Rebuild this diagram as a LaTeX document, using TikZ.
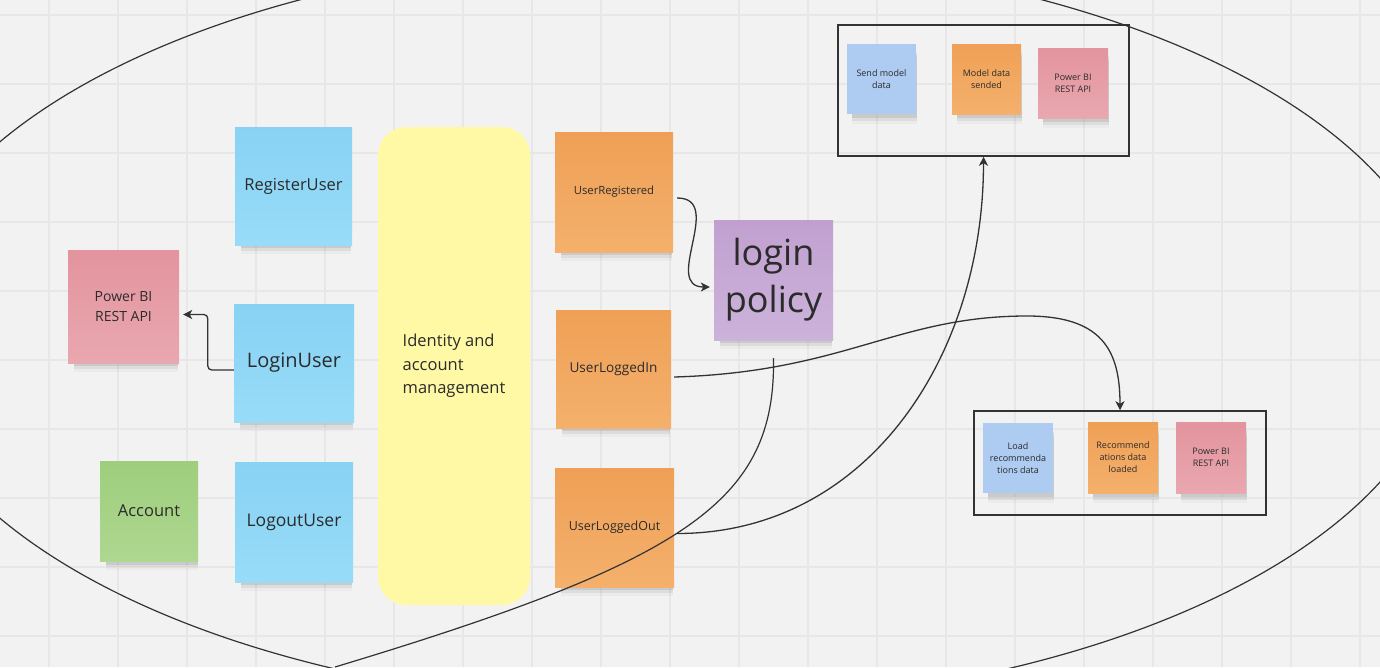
\documentclass[tikz,border=0pt]{standalone}
\usepackage{fontspec}
\setmainfont{Open Sans}
\usetikzlibrary{arrows.meta,shadows}

\definecolor{bg}{HTML}{F2F2F2}
\definecolor{gridc}{HTML}{E7E7E7}
\definecolor{linec}{HTML}{333333}
\definecolor{txt}{HTML}{2B2B2B}
\definecolor{blueA}{HTML}{88D2F4}
\definecolor{blueB}{HTML}{98DCF8}
\definecolor{lblue}{HTML}{AECBF1}
\definecolor{pinkA}{HTML}{E3949E}
\definecolor{pinkB}{HTML}{E9A7AF}
\definecolor{greenA}{HTML}{9ECE7C}
\definecolor{greenB}{HTML}{AED790}
\definecolor{orangeA}{HTML}{EFA056}
\definecolor{orangeB}{HTML}{F4B06C}
\definecolor{purpleA}{HTML}{C1A0D0}
\definecolor{purpleB}{HTML}{CCB3DA}
\definecolor{yellowc}{HTML}{FFF9A6}

\tikzset{
  gridline/.style={draw=gridc, line width=1.2pt},
  curve/.style={draw=linec, line width=1.2pt},
  conn/.style={draw=linec, line width=1.3pt, -{Stealth[length=9pt,width=9pt,inset=2.5pt]}},
  notesize/.style 2 args={minimum width=#1pt, minimum height=#2pt},
  fs/.style 2 args={font=\fontsize{#1}{#2}\selectfont},
  sticky/.style={inner sep=1pt, align=center, text=txt,
    drop shadow={shadow xshift=3pt, shadow yshift=-13pt, shadow scale=0.94, opacity=0.06},
    drop shadow={shadow xshift=3pt, shadow yshift=-10pt, shadow scale=0.94, opacity=0.12},
    drop shadow={shadow xshift=3pt, shadow yshift=-7pt, shadow scale=0.94, opacity=0.2}},
  bluenote/.style={sticky, top color=blueA, bottom color=blueB},
  lbluenote/.style={sticky, fill=lblue},
  pinknote/.style={sticky, top color=pinkA, bottom color=pinkB},
  greennote/.style={sticky, top color=greenA, bottom color=greenB},
  orangenote/.style={sticky, top color=orangeA, bottom color=orangeB},
  purplenote/.style={sticky, top color=purpleA, bottom color=purpleB},
  groupbox/.style={draw=linec, line width=1.5pt},
}

\begin{document}
\begin{tikzpicture}[x=1pt,y=-1pt]
  % 背景与网格
  \fill[bg] (0,0) rectangle (1380,667);
  \useasboundingbox (0,0) rectangle (1380,667);
  \foreach \x in {49,118,...,1360} \draw[gridline] (\x,0) -- (\x,667);
  \foreach \y in {15,84,...,636} \draw[gridline] (0,\y) -- (1380,\y);
  % 外围椭圆
  \begin{scope}
    \clip (0,0) rectangle (1380,667);
    \draw[curve] (671,330) ellipse [x radius=775, y radius=376];
  \end{scope}
  % 左侧: 命令与聚合
  \node[bluenote, notesize={117}{118}, fs={16.5}{20}] (reg) at (293.5,186) {RegisterUser};
  \node[bluenote, notesize={120}{118}, fs={20}{24}] (lgn) at (294,363) {LoginUser};
  \node[bluenote, notesize={118}{120}, fs={17.5}{21}] (lgo) at (294,522) {LogoutUser};
  \node[pinknote, notesize={111}{113}, fs={14}{20}] (pbl) at (123.5,306.5) {Power BI\\REST API};
  \node[greennote, notesize={98}{100}, fs={16.5}{20}] (acc) at (149,511) {Account};
  % 中间: 限界上下文
  \node[fill=yellowc, rounded corners=28pt, notesize={152}{478}, align=left,
        text=txt, fs={16.5}{23.5}] (idm) at (454,366) {Identity and\\account\\management};
  % 事件
  \node[orangenote, notesize={118}{120}, fs={11.3}{14}] (urg) at (614,192) {UserRegistered};
  \node[orangenote, notesize={115}{118}, fs={13.6}{16}] (uli) at (613.5,369) {UserLoggedIn};
  \node[orangenote, notesize={119}{119}, fs={12.5}{15}] (ulo) at (614.5,527.5) {UserLoggedOut};
  % 策略
  \node[purplenote, notesize={119}{120}, fs={36}{47}] (pol) at (773.5,280) {login\\policy};
  % 右上: 发送模型数据
  \node[groupbox, notesize={291}{131}] (topbox) at (983.5,90.5) {};
  \node[lbluenote, notesize={69}{70}, fs={9}{12}] (smd) at (881.5,79) {Send model\\data};
  \node[orangenote, notesize={69}{70}, fs={9}{12}] (mds) at (986.5,79) {Model data\\sended};
  \node[pinknote, notesize={70}{70}, fs={9}{12}] (pbt) at (1073,83) {Power BI\\REST API};
  % 右下: 加载推荐数据
  \node[groupbox, notesize={292}{104}] (botbox) at (1120,463) {};
  \node[lbluenote, notesize={70}{70}, fs={9}{12}] (lrd) at (1018,458) {Load\\recommenda\\tions data};
  \node[orangenote, notesize={70}{71}, fs={9}{12}] (rdl) at (1123,457.5) {Recommend\\ations data\\loaded};
  \node[pinknote, notesize={70}{71}, fs={9}{12}] (pbb) at (1211,457.5) {Power BI\\REST API};
  % 连线
  \draw[conn, rounded corners=4pt] ([yshift=-7pt]lgn.west) -- ++(-26,0) |- ([xshift=4pt,yshift=-8pt]pbl.east);
  \draw[conn] ([xshift=4pt,yshift=-6pt]urg.east) to[out=0,in=180,looseness=1.3] ([xshift=-4pt,yshift=-7pt]pol.west);
  \coordinate (bend) at (1027,316);
  \draw[conn] ([xshift=3pt,yshift=-8pt]uli.east) .. controls +(170,-5) and +(-130,0) .. (bend)
    .. controls +(75,0) and +(0,-60) .. (botbox.north);
  \draw[conn] ([xshift=3pt,yshift=-6pt]ulo.east) .. controls +(190,0) and +(0,200) .. (topbox.south);
  % 策略下方的曲线
  \coordinate (tailend) at (335,667);
  \draw[curve] ([yshift=-18pt]pol.south) .. controls +(2,142) and +(355,-107) .. (tailend);
\end{tikzpicture}
\end{document}
